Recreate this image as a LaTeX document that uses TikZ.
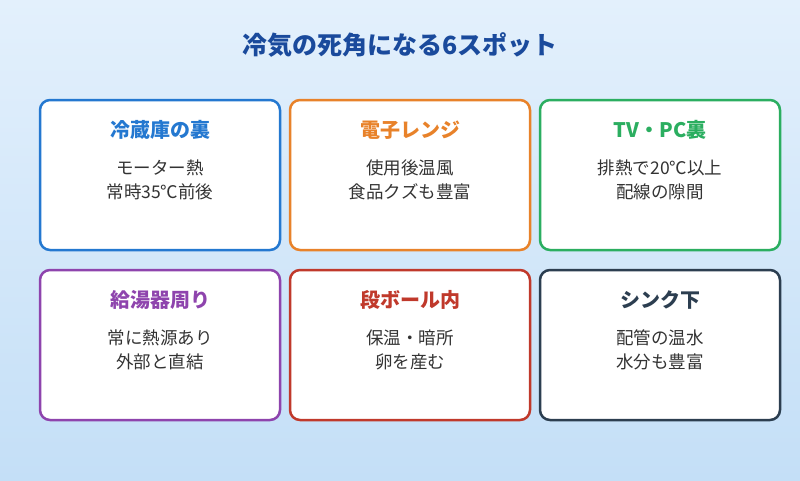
\documentclass[tikz,border=0pt]{standalone}
\usepackage{fontspec}
\setmainfont{Noto Sans CJK JP}
\usetikzlibrary{positioning}
\definecolor{bgtop}{HTML}{E3F0FC}
\definecolor{bgbot}{HTML}{C4DFF7}
\definecolor{titleblue}{HTML}{1A4A9C}
\definecolor{cblue}{HTML}{2478D0}
\definecolor{corange}{HTML}{E8822A}
\definecolor{cgreen}{HTML}{2BAE60}
\definecolor{cpurple}{HTML}{8E44AD}
\definecolor{cred}{HTML}{C0392B}
\definecolor{cdark}{HTML}{2C3E50}
\definecolor{bodytext}{HTML}{333333}
\tikzset{%
  every spot/.style={
    draw,
    line width=2.5pt,
    rounded corners=10pt,
    fill=white,
    minimum width=240pt,
    minimum height=150pt
  },
  spot title/.style={
    font=\fontsize{20}{24}\selectfont\bfseries
  },
  spot body/.style={
    align=center,
    text=bodytext,
    font=\fontsize{17.5}{24}\selectfont
  },
}

\begin{document}
\begin{tikzpicture}[x=1pt, y=-1pt]

\shade [top color=bgtop, bottom color=bgbot] (0,0) rectangle (800,480);
\useasboundingbox (0,0) rectangle (800,480);

\node [text=titleblue, font=\fontsize{25}{30}\selectfont\bfseries] (title) at (400,45) {冷気の死角になる6スポット};

\foreach \c/\t/\a/\b [count=\i from 0] in {
  cblue/冷蔵庫の裏/モーター熱/常時35℃前後,
  corange/電子レンジ/使用後温風/食品クズも豊富,
  cgreen/TV・PC裏/排熱で20℃以上/配線の隙間,
  cpurple/給湯器周り/常に熱源あり/外部と直結,
  cred/段ボール内/保温・暗所/卵を産む,
  cdark/シンク下/配管の温水/水分も豊富}
{
  \pgfmathsetmacro{\cx}{160+250*mod(\i,3)}
  \pgfmathsetmacro{\cy}{175+170*int(\i/3)}
  \node [every spot, draw=\c] (spot-\i) at (\cx,\cy) {};
  \node [spot title, text=\c] (spot-title-\i) at (\cx,\cy-45) {\t};
  \node [spot body] (spot-body-\i) at (\cx,\cy+5) {\a\\\b};
}

\end{tikzpicture}
\end{document}
